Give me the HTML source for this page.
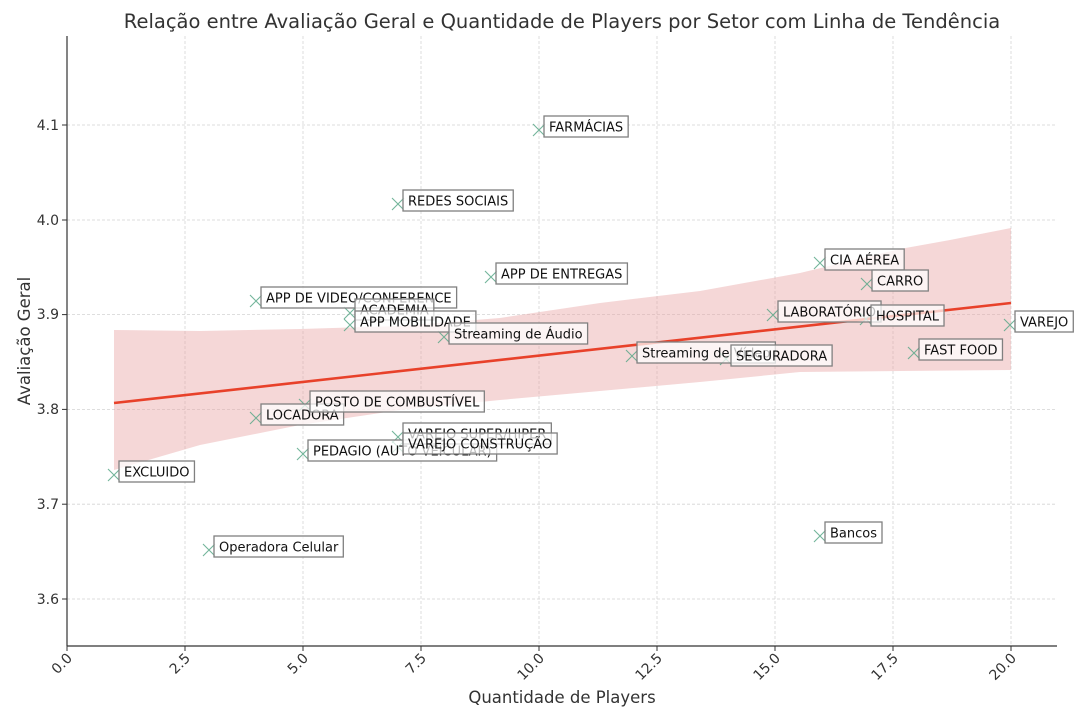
<!DOCTYPE html>
<html><head><meta charset="utf-8"><style>
body{margin:0;background:#fff;}
svg{display:block;font-family:"DejaVu Sans","Liberation Sans",sans-serif;}
.lb rect{fill:#fff;fill-opacity:.72;stroke:#808080;stroke-width:1.3;}
.lb text{font-size:13px;fill:#111;}
.m{stroke:#5aa88a;stroke-width:1.1;stroke-opacity:.85;}
.g{stroke:#d4d4d4;stroke-width:.8;stroke-dasharray:3,2;}
.tk{font-size:14px;fill:#333;}
</style></head><body>
<svg width="1087" height="722" viewBox="0 0 1087 722">
<text x="562" y="28" text-anchor="middle" font-size="19.5" fill="#333">Relação entre Avaliação Geral e Quantidade de Players por Setor com Linha de Tendência</text>
<g class="g">
<line x1="67" y1="36" x2="67" y2="646"/><line x1="185" y1="36" x2="185" y2="646"/><line x1="303" y1="36" x2="303" y2="646"/><line x1="421" y1="36" x2="421" y2="646"/><line x1="539" y1="36" x2="539" y2="646"/><line x1="657" y1="36" x2="657" y2="646"/><line x1="775" y1="36" x2="775" y2="646"/><line x1="893" y1="36" x2="893" y2="646"/><line x1="1011" y1="36" x2="1011" y2="646"/>
<line x1="67" y1="125" x2="1057" y2="125"/><line x1="67" y1="220" x2="1057" y2="220"/><line x1="67" y1="314.6" x2="1057" y2="314.6"/><line x1="67" y1="409.4" x2="1057" y2="409.4"/><line x1="67" y1="504.2" x2="1057" y2="504.2"/><line x1="67" y1="599" x2="1057" y2="599"/>
</g>
<polygon fill="#e8a0a0" fill-opacity=".42" points="114,330 200,331 300,329 400,326 500,318 600,303 700,291 800,273 900,249 950,240 1011,228 1011,370 900,371 800,372 700,382 600,391 500,400 400,410 300,425 200,445 114,470"/>
<line x1="114" y1="403" x2="1011" y2="303" stroke="#e8412a" stroke-width="2.6"/>
<g class="m" id="pts"></g>
<g class="lb" id="lbs"></g>
<line x1="67" y1="36" x2="67" y2="646" stroke="#333" stroke-width="1.2"/>
<line x1="67" y1="646" x2="1057" y2="646" stroke="#333" stroke-width="1.2"/>
<g class="tk" text-anchor="end">
<text x="59" y="130">4.1</text><text x="59" y="225">4.0</text><text x="59" y="319">3.9</text><text x="59" y="414">3.8</text><text x="59" y="509">3.7</text><text x="59" y="604">3.6</text>
</g>
<g class="tk" text-anchor="end" id="xt"></g>
<g stroke="#333" stroke-width="1">
<line x1="62" y1="125" x2="67" y2="125"/><line x1="62" y1="220" x2="67" y2="220"/><line x1="62" y1="314.6" x2="67" y2="314.6"/><line x1="62" y1="409.4" x2="67" y2="409.4"/><line x1="62" y1="504.2" x2="67" y2="504.2"/><line x1="62" y1="599" x2="67" y2="599"/>
</g>
<text x="562" y="703" text-anchor="middle" font-size="16.5" fill="#333">Quantidade de Players</text>
<text transform="translate(30,341) rotate(-90)" text-anchor="middle" font-size="16.5" fill="#333">Avaliação Geral</text>
</svg>
<script>
var NS="http://www.w3.org/2000/svg";
var d=[[114,475,"EXCLUIDO"],[209,550,"Operadora Celular"],[256,418,"LOCADORA"],[256,301,"APP DE VIDEO/CONFERENCE"],[303,454,"PEDAGIO (AUTO VEICULAR)"],[305,405,"POSTO DE COMBUSTÍVEL"],[350,313,"ACADEMIA"],[350,325,"APP MOBILIDADE"],[398,204,"REDES SOCIAIS"],[398,437,"VAREJO SUPER/HIPER"],[398,447,"VAREJO CONSTRUÇÃO"],[444,337,"Streaming de Áudio"],[491,277,"APP DE ENTREGAS"],[539,130,"FARMÁCIAS"],[632,356,"Streaming de Vídeo"],[726,359,"SEGURADORA"],[773,315,"LABORATÓRIO"],[820,536,"Bancos"],[820,263,"CIA AÉREA"],[867,284,"CARRO"],[866,319,"HOSPITAL"],[914,353,"FAST FOOD"],[1010,325,"VAREJO"]];
var P=document.getElementById("pts"),L=document.getElementById("lbs");
d.forEach(function(p){
 var a=document.createElementNS(NS,"path");a.setAttribute("d","M"+(p[0]-6)+","+(p[1]-6)+"L"+(p[0]+6)+","+(p[1]+6)+"M"+(p[0]-6)+","+(p[1]+6)+"L"+(p[0]+6)+","+(p[1]-6));P.appendChild(a);
 var g=document.createElementNS(NS,"g");var t=document.createElementNS(NS,"text");t.setAttribute("x",p[0]+10);t.setAttribute("y",p[1]+1.5);t.textContent=p[2];
 var r=document.createElementNS(NS,"rect");g.appendChild(r);g.appendChild(t);L.appendChild(g);
 var w=t.getComputedTextLength();r.setAttribute("x",p[0]+5);r.setAttribute("y",p[1]-14);r.setAttribute("width",w+10);r.setAttribute("height",21);
});
var X=document.getElementById("xt");
["0.0","2.5","5.0","7.5","10.0","12.5","15.0","17.5","20.0"].forEach(function(s,i){
 var x=67+i*118;var t=document.createElementNS(NS,"text");t.setAttribute("transform","translate("+(x+6)+",659) rotate(-45)");t.textContent=s;X.appendChild(t);
 var l=document.createElementNS(NS,"line");l.setAttribute("x1",x);l.setAttribute("x2",x);l.setAttribute("y1",646);l.setAttribute("y2",651);l.setAttribute("stroke","#333");X.appendChild(l);
});
</script>
</body></html>
